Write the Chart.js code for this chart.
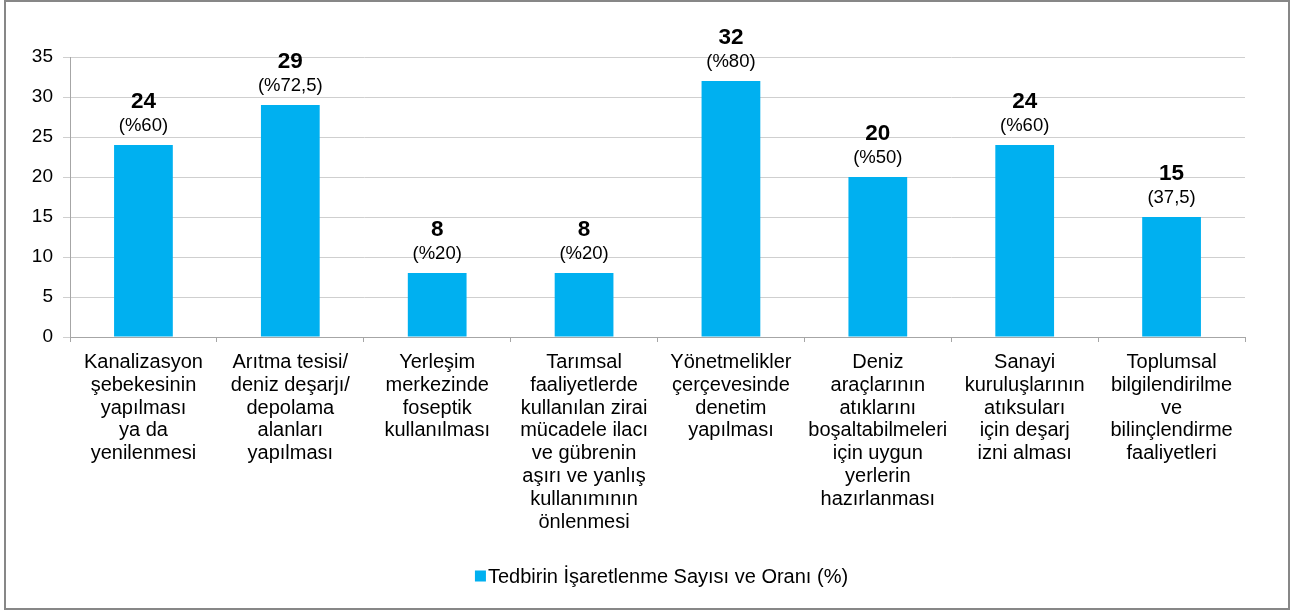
<!DOCTYPE html>
<html>
<head>
<meta charset="utf-8">
<script src="https://cdn.jsdelivr.net/npm/chart.js@4.4.1/dist/chart.umd.min.js"></script>
<style>
  html, body { margin: 0; padding: 0; background: #fff; }
  #wrap { position: relative; width: 1293px; height: 613px; }
  #frame { position: absolute; left: 4px; top: 0px; width: 1282px; height: 606px; border: 2px solid #878787; pointer-events: none; }
  canvas { position: absolute; left: 0; top: 0; }
</style>
</head>
<body>
<div id="wrap">
  <canvas id="c" width="1293" height="613"></canvas>
  <div id="frame"></div>
</div>
<script>
const categories = [
  ["Kanalizasyon", "şebekesinin", "yapılması", "ya da", "yenilenmesi"],
  ["Arıtma tesisi/", "deniz deşarjı/", "depolama", "alanları", "yapılması"],
  ["Yerleşim", "merkezinde", "foseptik", "kullanılması"],
  ["Tarımsal", "faaliyetlerde", "kullanılan zirai", "mücadele ilacı", "ve gübrenin", "aşırı ve yanlış", "kullanımının", "önlenmesi"],
  ["Yönetmelikler", "çerçevesinde", "denetim", "yapılması"],
  ["Deniz", "araçlarının", "atıklarını", "boşaltabilmeleri", "için uygun", "yerlerin", "hazırlanması"],
  ["Sanayi", "kuruluşlarının", "atıksuları", "için deşarj", "izni alması"],
  ["Toplumsal", "bilgilendirilme", "ve", "bilinçlendirme", "faaliyetleri"]
];
const counts = [24, 29, 8, 8, 32, 20, 24, 15];
const shares = ["(%60)", "(%72,5)", "(%20)", "(%20)", "(%80)", "(%50)", "(%60)", "(37,5)"];
const yTicks = [0, 5, 10, 15, 20, 25, 30, 35];
const seriesName = "Tedbirin İşaretlenme Sayısı ve Oranı (%)";

const FONT = "'Liberation Sans', Arial, sans-serif";
const BAR_COLOR = '#00B0F0';

// Writes the count and its share above each bar
const barLabels = {
  id: 'barLabels',
  afterDatasetsDraw(chart) {
    const ctx = chart.ctx;
    const meta = chart.getDatasetMeta(0);
    ctx.save();
    ctx.textAlign = 'center';
    ctx.textBaseline = 'middle';
    ctx.fillStyle = '#000';
    meta.data.forEach((bar, i) => {
      ctx.font = "bold 22.5px " + FONT;
      ctx.fillText(String(counts[i]), bar.x, bar.y - 43);
      ctx.font = "18.5px " + FONT;
      ctx.fillText(shares[i], bar.x, bar.y - 19);
    });
    ctx.restore();
  }
};

// Single-entry legend centred under the category labels
const bottomLegend = {
  id: 'bottomLegend',
  afterDraw(chart) {
    const ctx = chart.ctx;
    const ds = chart.data.datasets[0];
    ctx.save();
    ctx.font = "20px " + FONT;
    const box = 11, gap = 2;
    const textW = ctx.measureText(ds.label).width;
    const total = box + gap + textW;
    const cx = (chart.chartArea.left + chart.chartArea.right) / 2 + 4;
    const x0 = cx - total / 2;
    const y = 576;
    ctx.fillStyle = ds.backgroundColor;
    ctx.fillRect(x0, y - box / 2, box, box);
    ctx.fillStyle = '#000';
    ctx.textAlign = 'left';
    ctx.textBaseline = 'middle';
    ctx.fillText(ds.label, x0 + box + gap, y + 1);
    ctx.restore();
  }
};

new Chart(document.getElementById('c'), {
  type: 'bar',
  data: {
    labels: categories,
    datasets: [{
      label: seriesName,
      data: counts,
      backgroundColor: BAR_COLOR,
      borderWidth: 0,
      barPercentage: 0.4,
      categoryPercentage: 1.0
    }]
  },
  options: {
    responsive: false,
    animation: false,
    devicePixelRatio: 1,
    layout: { padding: { left: 0, right: 48, top: 57, bottom: 54 } },
    plugins: {
      legend: { display: false },
      tooltip: { enabled: false }
    },
    scales: {
      x: {
        grid: {
          display: true,
          drawOnChartArea: false,
          drawTicks: true,
          tickLength: 5,
          color: '#A6A6A6',
          offset: true
        },
        border: { color: '#A6A6A6', width: 1 },
        ticks: {
          color: '#000',
          font: { family: FONT, size: 20, lineHeight: 1.14 },
          maxRotation: 0,
          autoSkip: false,
          padding: 9
        },
        afterFit(scale) { scale.height = 222; }
      },
      y: {
        min: 0,
        max: 35,
        afterBuildTicks(scale) { scale.ticks = yTicks.map(v => ({ value: v })); },
        grid: { color: '#CFCFCF', tickLength: 7, drawTicks: true },
        border: { color: '#A6A6A6', width: 1 },
        ticks: {
          color: '#000',
          font: { family: FONT, size: 19 },
          padding: 10
        },
        afterFit(scale) { scale.width = 70; }
      }
    }
  },
  plugins: [barLabels, bottomLegend]
});
</script>
</body>
</html>
